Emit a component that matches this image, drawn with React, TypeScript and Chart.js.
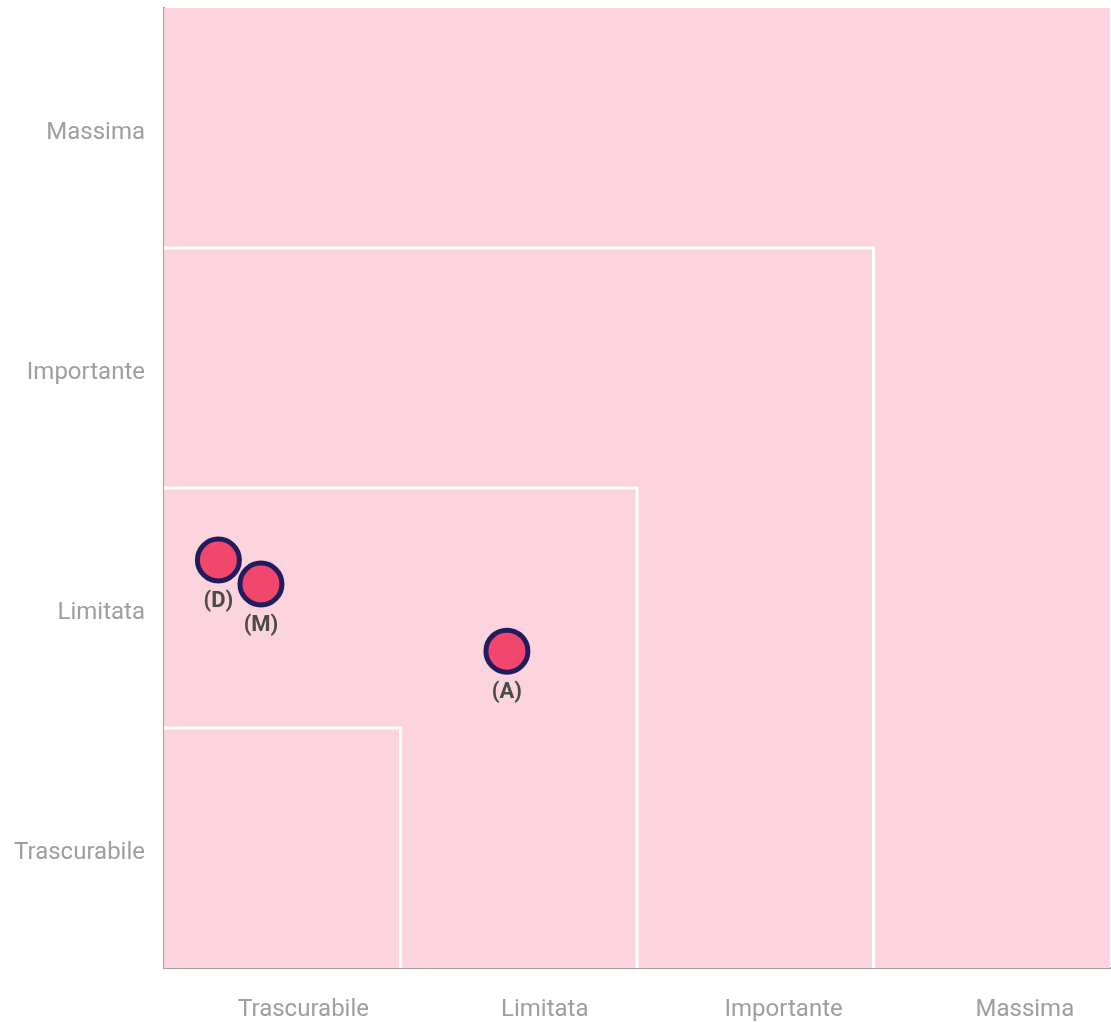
import React, { useEffect, useRef } from "react";
import { Chart, registerables } from "chart.js";

Chart.register(...registerables);

const levelLabels = ["Trascurabile", "Limitata", "Importante", "Massima"];
const pointNames = ["(D)", "(M)", "(A)"];
const pointX = [0.23, 0.41, 1.45];
const pointY = [1.70, 1.60, 1.32];
const zoneLevels = [1, 2, 3];

const xTickPositions = [0.59, 1.61, 2.62, 3.64];
const yTickPositions = [0.5, 1.5, 2.5, 3.5];

export default function App() {
  const ref = useRef<HTMLCanvasElement | null>(null);

  useEffect(() => {
    if (!ref.current) return;
    document.body.style.margin = "0";

    const bgPlugin = {
      id: "bgFill",
      beforeDatasetsDraw(chart: any) {
        const { ctx, chartArea } = chart;
        ctx.save();
        ctx.fillStyle = "#FCD4DD";
        ctx.fillRect(chartArea.left, chartArea.top, chartArea.right - chartArea.left, chartArea.bottom - chartArea.top);
        ctx.restore();
      },
    };

    const labelPlugin = {
      id: "pointLabels",
      afterDatasetsDraw(chart: any) {
        const { ctx } = chart;
        const idx = chart.data.datasets.findIndex((d: any) => d.label === "points");
        const meta = chart.getDatasetMeta(idx);
        ctx.save();
        ctx.font = "bold 22px Roboto";
        ctx.fillStyle = "#4a4a4a";
        ctx.textAlign = "center";
        ctx.textBaseline = "middle";
        meta.data.forEach((el: any, i: number) => {
          ctx.fillText(pointNames[i], el.x, el.y + 41);
        });
        ctx.restore();
      },
    };

    const zoneDatasets = zoneLevels.map((k) => ({
      type: "line" as const,
      label: "zone" + k,
      data: [
        { x: 0, y: k },
        { x: k, y: k },
        { x: k, y: 0 },
      ],
      borderColor: "#ffffff",
      borderWidth: 3,
      pointRadius: 0,
      fill: false,
      tension: 0,
      order: 2,
    }));

    const zeroPad = (scale: any) => {
      scale.paddingLeft = 0;
      scale.paddingRight = 0;
      scale.paddingTop = 0;
      scale.paddingBottom = 0;
    };

    const labelFor = (positions: number[]) => (v: any) => {
      const i = positions.findIndex((p) => Math.abs(p - Number(v)) < 1e-6);
      return i >= 0 ? levelLabels[i] : "";
    };

    const chart = new Chart(ref.current, {
      type: "scatter",
      data: {
        datasets: [
          ...zoneDatasets,
          {
            type: "scatter" as const,
            label: "points",
            data: pointX.map((x, i) => ({ x, y: pointY[i] })),
            backgroundColor: "#F2476D",
            borderColor: "#231C5C",
            borderWidth: 5,
            pointRadius: 21,
            pointHoverRadius: 21,
            order: 1,
          },
        ] as any,
      },
      options: {
        animation: false,
        responsive: false,
        maintainAspectRatio: false,
        layout: { autoPadding: false, padding: { top: 8, right: 1, left: 0, bottom: 0 } },
        plugins: {
          legend: { display: false },
          tooltip: { enabled: false },
        },
        scales: {
          x: {
            type: "linear",
            min: 0,
            max: 4,
            grid: { display: false, drawTicks: false },
            border: { display: true, color: "#a0a0a0", width: 2 },
            afterBuildTicks(scale: any) {
              scale.ticks = xTickPositions.map((v) => ({ value: v }));
            },
            afterFit(scale: any) {
              scale.height = 54;
              zeroPad(scale);
            },
            ticks: {
              padding: 28,
              color: "#9e9e9e",
              font: { family: "Roboto", size: 24 },
              maxRotation: 0,
              autoSkip: false,
              callback: labelFor(xTickPositions),
            },
          },
          y: {
            type: "linear",
            min: 0,
            max: 4,
            grid: { display: false, drawTicks: false },
            border: { display: true, color: "#a0a0a0", width: 2 },
            afterBuildTicks(scale: any) {
              scale.ticks = yTickPositions.map((v) => ({ value: v }));
            },
            afterFit(scale: any) {
              scale.width = 164;
              zeroPad(scale);
            },
            ticks: {
              padding: 19,
              labelOffset: 5,
              color: "#9e9e9e",
              font: { family: "Roboto", size: 24 },
              autoSkip: false,
              callback: labelFor(yTickPositions),
            },
          },
        },
      },
      plugins: [bgPlugin, labelPlugin],
    });

    return () => chart.destroy();
  }, []);

  return (
    <div style={{ position: "fixed", left: 0, top: 0, width: 1111, height: 1022, background: "#fff" }}>
      <canvas ref={ref} width={1111} height={1022} style={{ width: 1111, height: 1022 }} />
    </div>
  );
}
